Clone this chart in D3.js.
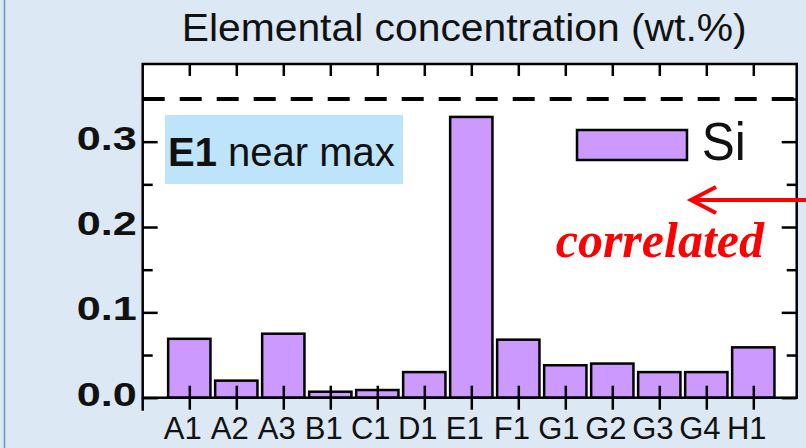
<!DOCTYPE html>
<html>
<head>
<meta charset="utf-8">
<script src="https://cdn.jsdelivr.net/npm/d3@7/dist/d3.min.js"></script>
<style>
  html, body { margin: 0; padding: 0; background: #dce8f4; }
  svg { display: block; }
</style>
</head>
<body>
<svg id="chart" width="806" height="448"></svg>
<script>
// Sample codes along the x axis
const categories = ["A1", "A2", "A3", "B1", "C1", "D1", "E1", "F1", "G1", "G2", "G3", "G4", "H1"];
// Si concentration per sample (wt.%)
const siValues = [0.069, 0.020, 0.075, 0.007, 0.009, 0.030, 0.329, 0.068, 0.038, 0.040, 0.030, 0.030, 0.059];
// Y axis ticks
const majorTicks = [0, 0.1, 0.2, 0.3];
const minorTicks = [0.05, 0.15, 0.25, 0.35];
// Reference level drawn as a dashed line
const thresholdValue = 0.35;
const yMax = 0.391;

const svg = d3.select("#chart");
const W = 806, H = 448;
const plot = { left: 142.7, right: 796.7, top: 64, bottom: 397.7 };

// page background and left border
svg.append("rect").attr("width", W).attr("height", H).attr("fill", "#dce8f4");
svg.append("line").attr("x1", 4.5).attr("x2", 4.5).attr("y1", 0).attr("y2", H)
  .attr("stroke", "#6b8fcf").attr("stroke-width", 1.5);

const x = d3.scalePoint().domain(categories).range([189.3, 753.3]);
const barW = x.step() * 0.9;
const y = d3.scaleLinear().domain([0, yMax]).range([plot.bottom, plot.top]);

// plot area
svg.append("rect")
  .attr("x", plot.left).attr("y", plot.top)
  .attr("width", plot.right - plot.left).attr("height", plot.bottom - plot.top)
  .attr("fill", "#ffffff");

// highlight note box
const note = svg.append("g");
note.append("rect")
  .attr("x", 165).attr("y", 115).attr("width", 238).attr("height", 69)
  .attr("fill", "#bde4fa");
const noteText = note.append("text")
  .attr("x", 168).attr("y", 165.5)
  .attr("font-family", "Liberation Sans, Arial, sans-serif")
  .attr("font-size", 40).attr("fill", "#111");
noteText.append("tspan").attr("font-weight", "bold").text("E1");
noteText.append("tspan").text(" near max");

// bars
svg.append("g").selectAll("rect")
  .data(categories.map((c, i) => ({ c, v: siValues[i] })))
  .join("rect")
  .attr("x", d => x(d.c) - barW / 2)
  .attr("y", d => y(d.v))
  .attr("width", barW)
  .attr("height", d => y(0) - y(d.v))
  .attr("fill", "#cc99ff")
  .attr("stroke", "#000")
  .attr("stroke-width", 2.5);

// dashed reference line
svg.append("line")
  .attr("x1", plot.left).attr("x2", plot.right)
  .attr("y1", y(thresholdValue)).attr("y2", y(thresholdValue))
  .attr("stroke", "#000").attr("stroke-width", 4)
  .attr("stroke-dasharray", "22,15");

// frame
svg.append("rect")
  .attr("x", plot.left).attr("y", plot.top)
  .attr("width", plot.right - plot.left).attr("height", plot.bottom - plot.top)
  .attr("fill", "none").attr("stroke", "#000").attr("stroke-width", 2.5);
svg.append("line")
  .attr("x1", plot.left).attr("x2", plot.left)
  .attr("y1", plot.bottom).attr("y2", plot.bottom + 13)
  .attr("stroke", "#000").attr("stroke-width", 2.5);

function styleAxis(g) {
  g.select(".domain").remove();
  g.selectAll(".tick line").attr("stroke", "#000").attr("stroke-width", 2.5);
}

// left axis, major ticks with labels
const leftAxis = svg.append("g")
  .attr("transform", `translate(${plot.left},0)`)
  .call(d3.axisLeft(y).tickValues(majorTicks).tickSize(-15).tickPadding(6)
    .tickFormat(d3.format(".1f")))
  .call(styleAxis);
leftAxis.selectAll(".tick text")
  .attr("font-family", "Liberation Sans, Arial, sans-serif")
  .attr("font-size", 34).attr("font-weight", "bold").attr("fill", "#111")
  .attr("dy", null).attr("y", 7.5)
  .attr("textLength", 60).attr("lengthAdjust", "spacingAndGlyphs");
svg.append("g")
  .attr("transform", `translate(${plot.left},0)`)
  .call(d3.axisLeft(y).tickValues(minorTicks).tickSize(-10).tickFormat(""))
  .call(styleAxis);

// right axis, ticks only
svg.append("g")
  .attr("transform", `translate(${plot.right},0)`)
  .call(d3.axisRight(y).tickValues(majorTicks).tickSize(-15).tickFormat(""))
  .call(styleAxis);
svg.append("g")
  .attr("transform", `translate(${plot.right},0)`)
  .call(d3.axisRight(y).tickValues(minorTicks).tickSize(-10).tickFormat(""))
  .call(styleAxis);

// bottom axis: ticks cross the baseline
const bottomAxis = svg.append("g")
  .attr("transform", `translate(0,${plot.bottom})`)
  .call(d3.axisBottom(x).tickSize(12))
  .call(styleAxis);
bottomAxis.selectAll(".tick line").attr("y1", -12);
bottomAxis.selectAll(".tick text")
  .attr("font-family", "Liberation Sans, Arial, sans-serif")
  .attr("font-size", 31).attr("fill", "#111")
  .attr("dy", null).attr("y", 41.6).attr("dx", -7);

// top axis, ticks only
svg.append("g")
  .attr("transform", `translate(0,${plot.top})`)
  .call(d3.axisTop(x).tickSize(-12).tickFormat(""))
  .call(styleAxis);

// legend
svg.append("rect")
  .attr("x", 577).attr("y", 130).attr("width", 110).attr("height", 30)
  .attr("fill", "#cc99ff").attr("stroke", "#000").attr("stroke-width", 2.5);
svg.append("text")
  .attr("x", 701.7).attr("y", 159.5)
  .attr("font-family", "Liberation Sans, Arial, sans-serif")
  .attr("font-size", 54).attr("fill", "#111")
  .attr("textLength", 44).attr("lengthAdjust", "spacingAndGlyphs")
  .text("Si");

// annotation arrow
svg.append("line")
  .attr("x1", W).attr("x2", 693).attr("y1", 200).attr("y2", 200)
  .attr("stroke", "#ff0000").attr("stroke-width", 4);
svg.append("polyline")
  .attr("points", "716,187 691,200 716,213")
  .attr("fill", "none").attr("stroke", "#ff0000").attr("stroke-width", 4)
  .attr("stroke-linejoin", "miter");
svg.append("text")
  .attr("x", 764).attr("y", 257).attr("text-anchor", "end")
  .attr("font-family", "Liberation Serif, Times New Roman, serif")
  .attr("font-size", 50).attr("font-weight", "bold").attr("font-style", "italic")
  .attr("fill", "#ff0000")
  .text("correlated");

// title
svg.append("text")
  .attr("x", 181.7).attr("y", 40.7)
  .attr("font-family", "Liberation Sans, Arial, sans-serif")
  .attr("font-size", 38).attr("fill", "#111")
  .attr("textLength", 565).attr("lengthAdjust", "spacingAndGlyphs")
  .text("Elemental concentration (wt.%)");
</script>
</body>
</html>
